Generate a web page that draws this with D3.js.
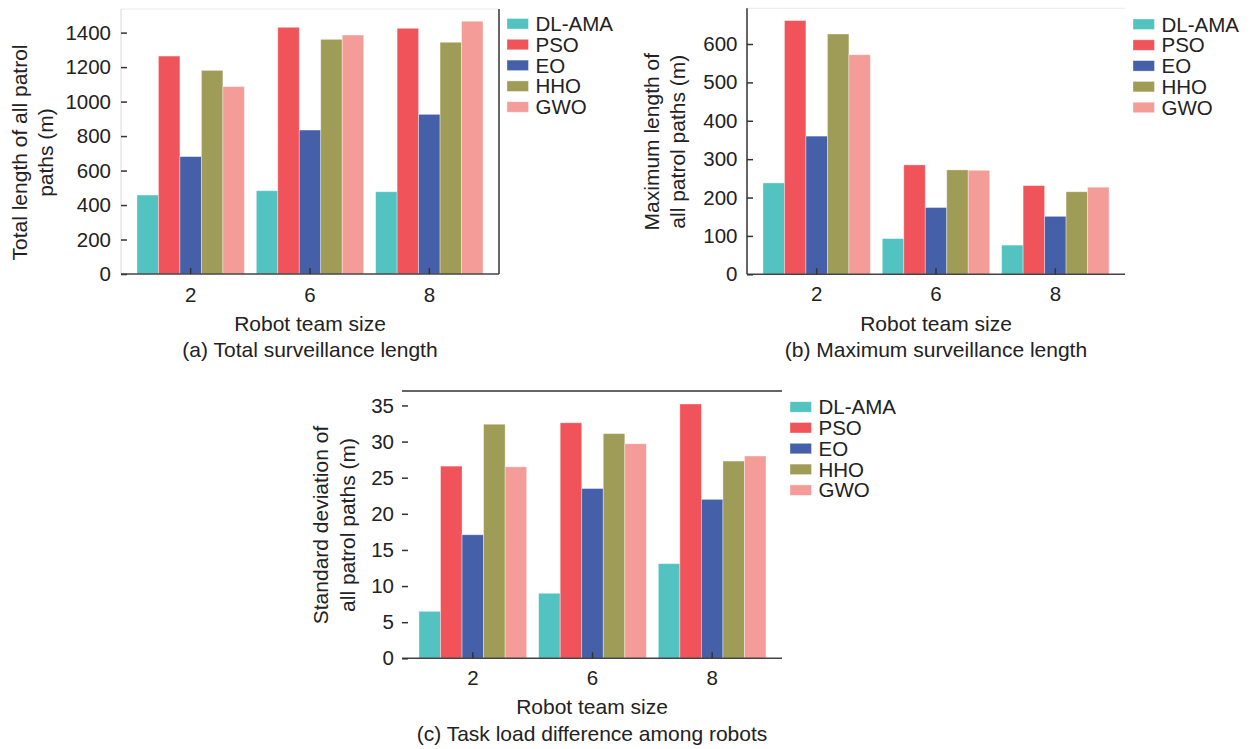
<!DOCTYPE html>
<html>
<head>
<meta charset="utf-8">
<script src="https://cdn.jsdelivr.net/npm/d3@7"></script>
<style>
  html, body { margin: 0; padding: 0; background: #fff; }
  svg { display: block; }
  text { font-family: "Liberation Sans", Arial, Helvetica, sans-serif; fill: #222; }
</style>
</head>
<body>
<svg id="chart" width="1250" height="749"></svg>
<script>
// ---------------- DATA ----------------
const categories = ["2", "6", "8"];               // Robot team size
const seriesNames = ["DL-AMA", "PSO", "EO", "HHO", "GWO"];
const seriesColors = ["#52C3C0", "#F0545A", "#4560A8", "#9E9C56", "#F49D98"];

// values per team size, in series order [DL-AMA, PSO, EO, HHO, GWO]
const totalLength = [
  [458, 1264, 681, 1181, 1087],
  [483, 1431, 835, 1361, 1386],
  [477, 1425, 926, 1344, 1466]
];
const maxLength = [
  [238, 661, 360, 626, 572],
  [93, 285, 174, 272, 271],
  [76, 231, 151, 215, 227]
];
const stdDev = [
  [6.5, 26.6, 17.1, 32.4, 26.5],
  [9.0, 32.6, 23.5, 31.1, 29.7],
  [13.1, 35.2, 22.0, 27.3, 28.0]
];

const ticksA = [0, 200, 400, 600, 800, 1000, 1200, 1400];
const ticksB = [0, 100, 200, 300, 400, 500, 600];
const ticksC = [0, 5, 10, 15, 20, 25, 30, 35];

const xTitle = "Robot team size";

// ---------------- LAYOUT ----------------
const panels = [
  {
    data: totalLength, ticks: ticksA, ymax: 1537,
    axis: [121, 499], band: [131, 489], yTop: 9, yBot: 274,
    leftSpine: "#d8d8d8", rightSpine: "#333", topSpine: "#ebebeb",
    label: ["Total length of all patrol", "paths (m)"], labelX: [26.7, 53], labelCY: 152.5,
    caption: "(a) Total surveillance length",
    legend: { x: 507, y: 18.5 }, tickBase: 301.7, titleBase: 331, capBase: 356.7, tickGap: 10
  },
  {
    data: maxLength, ticks: ticksB, ymax: 693,
    axis: [747, 1125], band: [757, 1115], yTop: 8.3, yBot: 274.3,
    leftSpine: "#333", rightSpine: null, topSpine: "#ebebeb",
    label: ["Maximum length of", "all patrol paths (m)"], labelX: [659, 685.3], labelCY: 141.7,
    caption: "(b) Maximum surveillance length",
    legend: { x: 1133, y: 19 }, tickBase: 301, titleBase: 331, capBase: 356.7, tickGap: 9.5
  },
  {
    data: stdDev, ticks: ticksC, ymax: 37,
    axis: [402, 782], band: [413, 772], yTop: 391, yBot: 658.3,
    leftSpine: null, rightSpine: null, topSpine: "#333",
    label: ["Standard deviation of", "all patrol paths (m)"], labelX: [327.5, 354.5], labelCY: 525,
    caption: "(c) Task load difference among robots",
    legend: { x: 790, y: 401.7 }, tickBase: 685, titleBase: 713.5, capBase: 741, tickGap: 8
  }
];

const svg = d3.select("#chart");

panels.forEach(p => {
  const g = svg.append("g");
  const x0 = d3.scaleBand().domain(categories).range(p.band).paddingInner(0.1).paddingOuter(0.05);
  const x1 = d3.scaleBand().domain(seriesNames).range([0, x0.bandwidth()]);
  const y = d3.scaleLinear().domain([0, p.ymax]).range([p.yBot, p.yTop]);
  const color = d3.scaleOrdinal().domain(seriesNames).range(seriesColors);

  // top spine
  g.append("line").attr("x1", p.axis[0]).attr("x2", p.axis[1])
    .attr("y1", p.yTop).attr("y2", p.yTop)
    .attr("stroke", p.topSpine).attr("stroke-width", p.topSpine === "#333" ? 1.3 : 1);
  if (p.leftSpine) {
    g.append("line").attr("x1", p.axis[0]).attr("x2", p.axis[0])
      .attr("y1", p.yTop).attr("y2", p.yBot)
      .attr("stroke", p.leftSpine).attr("stroke-width", p.leftSpine === "#333" ? 1.5 : 1);
  }
  if (p.rightSpine) {
    g.append("line").attr("x1", p.axis[1]).attr("x2", p.axis[1])
      .attr("y1", p.yTop).attr("y2", p.yBot)
      .attr("stroke", p.rightSpine).attr("stroke-width", 1.5);
  }

  // bars
  const groups = g.selectAll("g.grp").data(categories).enter().append("g")
    .attr("transform", c => `translate(${x0(c)},0)`);
  groups.selectAll("rect").data((c, i) => seriesNames.map((s, j) => ({ s, v: p.data[i][j] })))
    .enter().append("rect")
    .attr("x", d => x1(d.s))
    .attr("width", x1.bandwidth())
    .attr("y", d => y(d.v))
    .attr("height", d => y(0) - y(d.v))
    .attr("fill", d => color(d.s))
    .attr("stroke", "#fff").attr("stroke-opacity", 0.45).attr("stroke-width", 0.8);

  // bottom spine
  g.append("line").attr("x1", p.axis[0]).attr("x2", p.axis[1])
    .attr("y1", p.yBot).attr("y2", p.yBot)
    .attr("stroke", "#444").attr("stroke-width", 1.5);

  // y axis ticks (inward) and labels
  const yAxis = d3.axisLeft(y).tickValues(p.ticks).tickFormat(d3.format("d"))
    .tickSizeInner(-6).tickSizeOuter(0).tickPadding(p.tickGap);
  const ya = g.append("g").attr("transform", `translate(${p.axis[0]},0)`).call(yAxis);
  ya.select(".domain").remove();
  ya.selectAll(".tick line").attr("stroke", "#333").attr("stroke-width", 1.5);
  ya.selectAll(".tick text").attr("font-size", 20.5).attr("fill", "#222")
    .attr("font-family", "Liberation Sans, Arial, sans-serif");

  // x axis ticks (inward) and labels
  const xAxis = d3.axisBottom(x0).tickSizeInner(-6).tickSizeOuter(0).tickPadding(0);
  const xa = g.append("g").attr("transform", `translate(0,${p.yBot})`).call(xAxis);
  xa.select(".domain").remove();
  xa.selectAll(".tick line").attr("stroke", "#333").attr("stroke-width", 1.5);
  xa.selectAll(".tick text").attr("font-size", 20.5).attr("fill", "#222")
    .attr("font-family", "Liberation Sans, Arial, sans-serif")
    .attr("dy", null).attr("y", p.tickBase - p.yBot);

  const cx = (p.axis[0] + p.axis[1]) / 2;
  g.append("text").attr("x", cx).attr("y", p.titleBase).attr("text-anchor", "middle")
    .attr("font-size", 21).text(xTitle);
  g.append("text").attr("x", cx).attr("y", p.capBase).attr("text-anchor", "middle")
    .attr("font-size", 21).text(p.caption);

  // y title (two lines, rotated)
  p.label.forEach((t, i) => {
    g.append("text")
      .attr("transform", `translate(${p.labelX[i]},${p.labelCY}) rotate(-90)`)
      .attr("text-anchor", "middle").attr("font-size", 21).text(t);
  });

  // legend
  const lg = g.append("g").attr("transform", `translate(${p.legend.x},${p.legend.y})`);
  seriesNames.forEach((s, i) => {
    const row = lg.append("g").attr("transform", `translate(0,${i * 20.8})`);
    row.append("rect").attr("width", 21.5).attr("height", 10.5).attr("fill", color(s))
      .attr("stroke", "#fff").attr("stroke-opacity", 0.45).attr("stroke-width", 0.8);
    row.append("text").attr("x", 28.5).attr("y", 12.5).attr("font-size", 20.5).text(s);
  });
});
</script>
</body>
</html>
